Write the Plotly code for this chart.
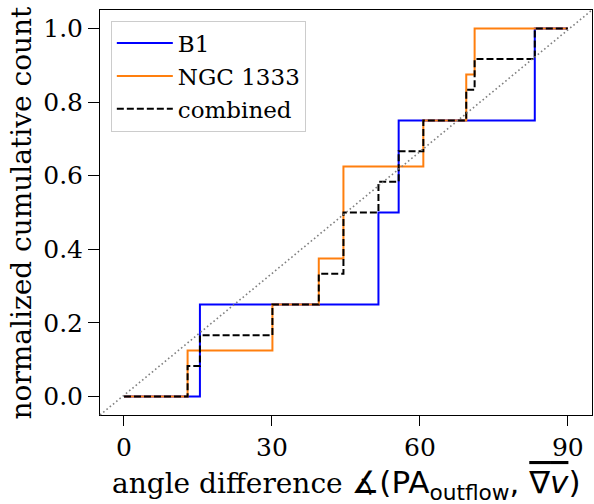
import plotly.graph_objects as go

# Angle differences (degrees)
b1_angles = [15.4, 51.6, 55.7, 83.3]
ngc1333_angles = [12.9, 30.1, 39.5, 44.5, 44.5, 60.7, 69.4, 71.1]
combined_angles = sorted(b1_angles + ngc1333_angles)

x_start, x_end = 0, 90
x_ticks = [0, 30, 60, 90]
y_ticks = [0.0, 0.2, 0.4, 0.6, 0.8, 1.0]

x_title = ("angle difference <span style='font-family:DejaVu Sans;font-size:31px'>∡(PA<sub>outflow</sub>, "
           "<span style='text-decoration:overline'>∇<i>v</i></span>)</span>")
y_title = "normalized cumulative count"


def cdf_steps(vals):
    n = len(vals)
    xs = [x_start] + list(vals) + [x_end]
    ys = [0.0] + [(i + 1) / n for i in range(n)] + [1.0]
    return xs, ys


series = [
    ("B1", b1_angles, dict(color="#0000ff", width=2)),
    ("NGC 1333", ngc1333_angles, dict(color="#ff7f0e", width=2)),
    ("combined", combined_angles, dict(color="black", width=2, dash="7px,3px")),
]

fig = go.Figure()
for name, vals, line in series:
    xs, ys = cdf_steps(vals)
    fig.add_trace(go.Scatter(x=xs, y=ys, mode="lines", line_shape="hv",
                             name=name, line=line))

# diagonal reference (axes corner to corner)
fig.add_shape(type="line", xref="paper", yref="paper", x0=0, y0=0, x1=1, y1=1,
              line=dict(color="#808080", width=1.6, dash="1.6px,2.6px"))

serif = "DejaVu Serif"
fig.add_annotation(text=x_title, xref="paper", yref="paper", x=0.5, y=0,
                   xanchor="center", yanchor="middle", yshift=-69,
                   showarrow=False, font=dict(family=serif, size=28, color="black"))
fig.add_annotation(text=y_title, xref="paper", yref="paper", x=0, y=0.5,
                   xanchor="center", yanchor="middle", xshift=-79, textangle=-90,
                   showarrow=False, font=dict(family=serif, size=28, color="black"))

fig.update_layout(
    width=594, height=504,
    margin=dict(l=100, r=2, t=10, b=89),
    paper_bgcolor="white", plot_bgcolor="white",
    font=dict(family=serif, color="black", size=25),
    showlegend=True,
    legend=dict(x=0.022, y=0.974, xanchor="left", yanchor="top",
                bgcolor="rgba(255,255,255,0.8)", bordercolor="#cccccc",
                borderwidth=1, font=dict(family=serif, size=23),
                itemwidth=56, tracegroupgap=0),
)
fig.update_xaxes(
    range=[-4.86, 94.9], tickvals=x_ticks, ticktext=[str(t) for t in x_ticks],
    ticks="outside", ticklen=10, tickwidth=1, tickcolor="black",
    showline=True, linecolor="black", linewidth=1, mirror=True, automargin=False,
    showgrid=False, zeroline=False, tickfont=dict(size=25),
)
fig.update_yaxes(
    range=[-0.05, 1.05], tickvals=y_ticks, ticktext=[f"{t:.1f}" for t in y_ticks],
    ticks="outside", ticklen=11, tickwidth=1, tickcolor="black",
    showline=True, linecolor="black", linewidth=1, mirror=True, automargin=False,
    showgrid=False, zeroline=False, tickfont=dict(size=25),
)

fig.write_html("out.html", config={"displayModeBar": False},
               post_script="document.body.style.margin='0';")
